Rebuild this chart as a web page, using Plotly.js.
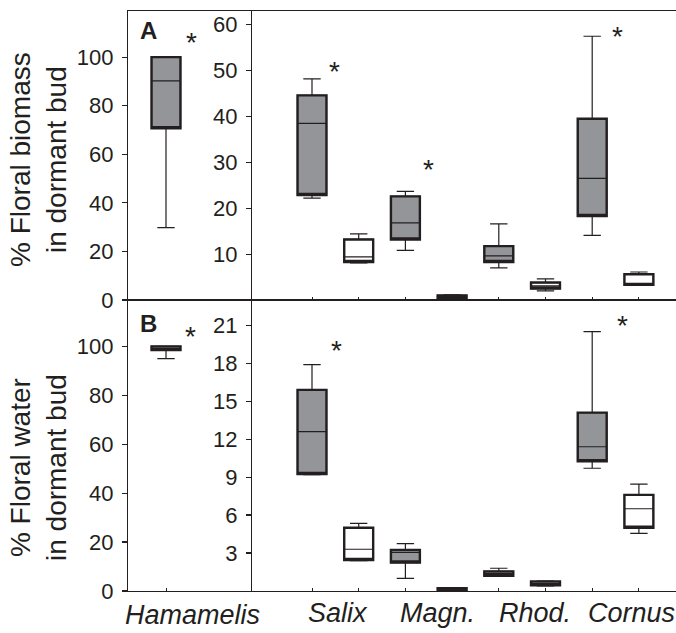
<!DOCTYPE html>
<html>
<head>
<meta charset="utf-8">
<script src="https://cdn.plot.ly/plotly-3.0.1.min.js"></script>
<style>html,body{margin:0;padding:0;background:#fff}#chart{width:676px;height:633px}</style>
</head>
<body>
<div id="chart"></div>
<script>
// ---------- data ----------
var genera = ['Salix', 'Magn.', 'Rhod.', 'Cornus'];
var leftGenus = 'Hamamelis';

// Panel A: % floral biomass in dormant bud
var hamA = {lf: [29.8], q1: [70.7], med: [90.2], q3: [100], uf: [100]};
var grayA_lf  = [22.2, 10.8, 7.0, 14.1];
var grayA_q1  = [22.9, 13.2, 8.3, 18.3];
var grayA_med = [38.5, 16.8, 9.6, 26.5];
var grayA_q3  = [44.6, 22.6, 11.75, 39.5];
var grayA_uf  = [48.2, 23.7, 16.6, 57.5];
var whiteA_lf  = [8.1, 0.4, 2.0, 3.3];
var whiteA_q1  = [8.3, 0.5, 2.5, 3.3];
var whiteA_med = [9.4, 0.7, 3.1, 3.6];
var whiteA_q3  = [13.2, 1.0, 3.8, 5.6];
var whiteA_uf  = [14.4, 1.1, 4.6, 6.1];

// Panel B: % floral water in dormant bud
var hamB = {lf: [95.0], q1: [98.5], med: [99.2], q3: [100], uf: [100]};
var grayB_lf  = [9.2, 1.0, 1.15, 9.7];
var grayB_q1  = [9.25, 2.25, 1.2, 10.25];
var grayB_med = [12.6, 3.05, 1.4, 11.4];
var grayB_q3  = [15.9, 3.25, 1.55, 14.1];
var grayB_uf  = [17.9, 3.75, 1.8, 20.5];
var whiteB_lf  = [2.4, 0.02, 0.4, 4.55];
var whiteB_q1  = [2.45, 0.05, 0.45, 5.0];
var whiteB_med = [3.3, 0.12, 0.6, 6.5];
var whiteB_q3  = [5.0, 0.22, 0.75, 7.6];
var whiteB_uf  = [5.35, 0.25, 0.78, 8.45];

var leftTicks = [0, 20, 40, 60, 80, 100];
var rightTicksA = [10, 20, 30, 40, 50, 60];
var rightTicksB = [3, 6, 9, 12, 15, 18, 21];

// ---------- styles ----------
var INK = '#231f20';
var GRAY = '#949598';
var FONT = 'Liberation Sans, Arial, Helvetica, sans-serif';
var BOXW = 0.62;

var grayPos = genera.map(function (g, i) { return 2 * i; });
var whitePos = genera.map(function (g, i) { return 2 * i + 1; });

function boxPair(x, lf, q1, med, q3, uf, fill, xa, ya) {
  var base = {
    type: 'box', x: x, xaxis: xa, yaxis: ya, width: BOXW, whiskerwidth: 0.6,
    boxpoints: false, hoverinfo: 'skip', showlegend: false
  };
  var thin = Object.assign({}, base, {
    lowerfence: lf, q1: q1, median: med, q3: q3, upperfence: uf,
    fillcolor: fill, line: {color: INK, width: 1.2}
  });
  var thick = Object.assign({}, base, {
    lowerfence: q1, q1: q1, median: q1, q3: q3, upperfence: q3,
    fillcolor: 'rgba(0,0,0,0)', line: {color: INK, width: 2.4}
  });
  return [thin, thick];
}

var traces = [].concat(
  boxPair([0], hamA.lf, hamA.q1, hamA.med, hamA.q3, hamA.uf, GRAY, 'x', 'y'),
  boxPair(grayPos, grayA_lf, grayA_q1, grayA_med, grayA_q3, grayA_uf, GRAY, 'x2', 'y2'),
  boxPair(whitePos, whiteA_lf, whiteA_q1, whiteA_med, whiteA_q3, whiteA_uf, '#ffffff', 'x2', 'y2'),
  boxPair([0], hamB.lf, hamB.q1, hamB.med, hamB.q3, hamB.uf, '#ffffff', 'x3', 'y3'),
  boxPair(grayPos, grayB_lf, grayB_q1, grayB_med, grayB_q3, grayB_uf, GRAY, 'x4', 'y4'),
  boxPair(whitePos, whiteB_lf, whiteB_q1, whiteB_med, whiteB_q3, whiteB_uf, '#ffffff', 'x4', 'y4')
);

// ---------- layout geometry (px -> paper) ----------
var W = 676, H = 633;
function px(v) { return v / W; }
function py(v) { return 1 - v / H; }
var xL = [px(128), px(252)], xR = [px(252), 1];
var yA = [py(300), py(11)], yB = [py(591), py(300)];
var unit = 46.7;
var leftRange = [(128 - 166) / unit, (252 - 166) / unit];
var rightRange = [(252 - 312) / unit, (676 - 312) / unit];

function xax(dom, rng, anchor, tickvals, ticks) {
  return {domain: dom, range: rng, anchor: anchor, showline: true, mirror: true,
    linecolor: INK, linewidth: 1.2, zeroline: false, showgrid: false,
    tickvals: tickvals, ticks: ticks, ticklen: 3, tickcolor: INK, showticklabels: false, fixedrange: true};
}
function yax(dom, rng, anchor, tickvals) {
  return {domain: dom, range: rng, anchor: anchor, showline: true, mirror: false,
    linecolor: INK, linewidth: 1.2, zeroline: false, showgrid: false,
    tickvals: tickvals, ticks: 'outside', ticklen: 5, tickcolor: INK, tickwidth: 1.2,
    tickfont: {family: FONT, size: 22, color: INK}, ticklabelstandoff: 4, fixedrange: true};
}

var annotations = [];
function txt(x, y, text, size, extra) {
  annotations.push(Object.assign({xref: 'paper', yref: 'paper', x: px(x), y: py(y), text: text,
    showarrow: false, font: {family: FONT, size: size, color: INK}, xanchor: 'center', yanchor: 'middle'}, extra || {}));
}
// axis titles
txt(38, 160, '% Floral biomass<br>in dormant bud', 28, {textangle: -90});
txt(38, 468, '% Floral water<br>in dormant bud', 28, {textangle: -90});
// panel letters
txt(148, 30, '<b>A</b>', 24);
txt(148, 323, '<b>B</b>', 24);
// category labels
txt(192, 615, '<i>' + leftGenus + '</i>', 27);
var labelPx = [338, 437, 535, 631];
genera.forEach(function (g, i) { txt(labelPx[i], 613, '<i>' + g + '</i>', 27); });
// significance stars
var starsPx = [[191, 42], [334, 71], [428, 170], [617, 36], [190, 336], [336, 351], [622, 325]];
starsPx.forEach(function (s) { txt(s[0], s[1], '*', 28); });

var layout = {
  width: W, height: H, margin: {l: 0, r: 0, t: 0, b: 0},
  paper_bgcolor: '#fff', plot_bgcolor: 'rgba(0,0,0,0)',
  boxmode: 'overlay', showlegend: false,
  xaxis: xax(xL, leftRange, 'y', [], ''),
  yaxis: yax(yA, [0, 119], 'x', leftTicks),
  xaxis2: xax(xR, rightRange, 'y2', grayPos.concat(whitePos), 'inside'),
  yaxis2: yax(yA, [0, 63], 'x2', rightTicksA),
  xaxis3: xax(xL, leftRange, 'y3', [0], 'inside'),
  yaxis3: yax(yB, [0, 119], 'x3', leftTicks),
  xaxis4: xax(xR, rightRange, 'y4', grayPos.concat(whitePos), 'inside'),
  yaxis4: yax(yB, [0, 23], 'x4', rightTicksB),
  annotations: annotations
};

Plotly.newPlot('chart', traces, layout, {staticPlot: true, displayModeBar: false});
</script>
</body>
</html>
